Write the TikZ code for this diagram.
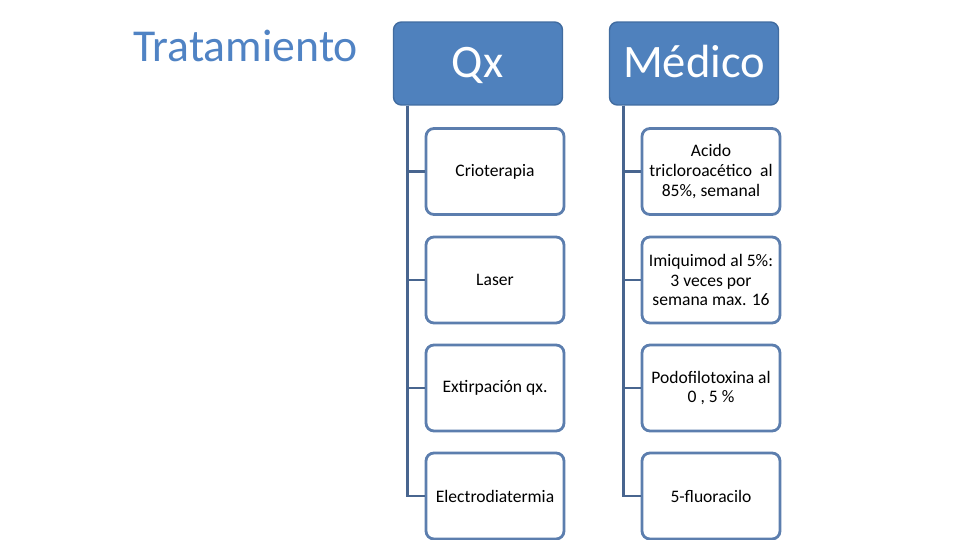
\documentclass[tikz,border=0pt]{standalone}
\usepackage{fontspec}
\setmainfont{Carlito}
\usepackage{xcolor}
\usepackage{tikz}
\usetikzlibrary{positioning}

\definecolor{hdrblue}{RGB}{79,129,189}
\definecolor{hdrline}{RGB}{65,108,160}
\definecolor{boxline}{RGB}{92,126,174}
\definecolor{connline}{RGB}{72,101,143}
\definecolor{titleblue}{RGB}{80,131,196}

\begin{document}
\begin{tikzpicture}[x=0.02cm, y=-0.02cm,
  hdr/.style={draw=hdrline, fill=hdrblue, line width=0.8pt, rounded corners=4.5pt,
              minimum width=3.38cm, minimum height=1.66cm, inner sep=0pt,
              text height=20pt, text depth=3.6pt,
              text=white, font=\fontsize{26.5}{30}\selectfont},
  item/.style={draw=boxline, fill=white, line width=1.6pt, rounded corners=4.5pt,
               minimum width=2.76cm, minimum height=1.72cm, inner sep=0pt,
               align=center, font=\fontsize{10}{11.3}\selectfont},
  conn/.style={draw=connline, line width=1.7pt}
]
\useasboundingbox (0,0) rectangle (960,540);

% --- title --------------------------------------------------------------
\node[anchor=west, text=titleblue, font=\fontsize{26}{30}\selectfont, inner sep=0pt]
  (title) at (133,46) {Tratamiento};

% --- headers ------------------------------------------------------------
\node[hdr] (qx)  at (478,63.5) {Qx};
\node[hdr] (med) at (694,63.5) {Médico};

% --- Qx column ----------------------------------------------------------
\node[item] (qx1) at (495,171.5) {Crioterapia};
\node[item] (qx2) at (495,280)   {Laser};
\node[item] (qx3) at (495,388)   {Extirpación qx.};
\node[item] (qx4) at (495,496)   {Electrodiatermia};

% --- Medico column ------------------------------------------------------
\node[item] (med1) at (711,171.5) {Acido\\tricloroacético\ \ al\\85\%, semanal};
\node[item] (med2) at (711,280)   {Imiquimod al 5\%:\\3 veces por\\semana max. 16};
\node[item] (med3) at (711,388)   {Podofilotoxina al\\0 , 5 \%};
\node[item] (med4) at (711,496)   {5-fluoracilo};

% --- connectors ---------------------------------------------------------
\coordinate (qxt)  at ([xshift=0.3cm]qx.south west);
\coordinate (medt) at ([xshift=0.3cm]med.south west);
\draw[conn] (qxt) |- (qx1.west);
\draw[conn] (qxt) |- (qx2.west);
\draw[conn] (qxt) |- (qx3.west);
\draw[conn] (qxt) |- (qx4.west);
\draw[conn] (medt) |- (med1.west);
\draw[conn] (medt) |- (med2.west);
\draw[conn] (medt) |- (med3.west);
\draw[conn] (medt) |- (med4.west);
\end{tikzpicture}
\end{document}
